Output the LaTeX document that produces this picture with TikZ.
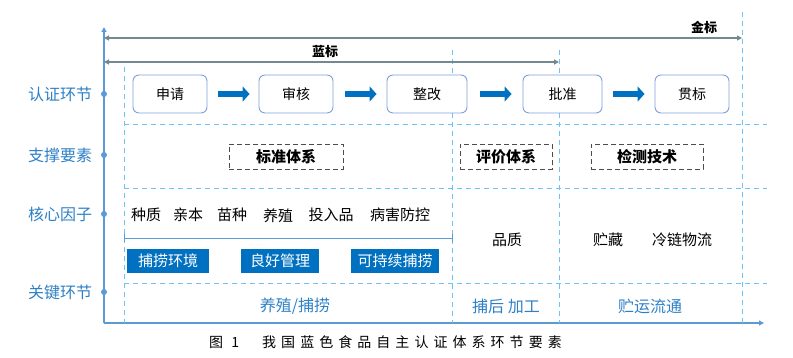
\documentclass[tikz,border=0pt]{standalone}
\usepackage{fontspec}
\setmainfont{Noto Sans CJK SC}
\newfontfamily\capfont[LetterSpace=36]{Noto Sans CJK SC}
\usetikzlibrary{arrows.meta}
\definecolor{axisblue}{HTML}{5B9BD5}
\definecolor{lblue}{HTML}{2E80C6}
\definecolor{dashblue}{HTML}{6EC2F7}
\definecolor{boxborder}{HTML}{7F9FDA}
\definecolor{solidblue}{HTML}{0070C0}
\definecolor{graydark}{HTML}{75878F}
\tikzset{
  rowlabel/.style={text=lblue,font=\fontsize{16}{16}\selectfont,anchor=center},
  dashline/.style={draw=dashblue,line width=0.9pt,dash pattern=on 5pt off 4pt},
  stepbox/.style={draw=boxborder,line width=0.9pt,rounded corners=6pt,fill=white,minimum width=74pt,minimum height=38pt,font=\fontsize{14}{14}\selectfont},
  blockarrow/.style={draw=solidblue,line width=6pt,-{Triangle[length=7pt,width=15pt]}},
  dashbox/.style={draw=black!70,line width=0.8pt,dash pattern=on 5pt off 3pt,minimum height=25pt,font=\bfseries\fontsize{15}{15}\selectfont},
  factor/.style={font=\fontsize{15}{15}\selectfont},
  bluebox/.style={fill=solidblue,text=white,minimum height=24pt,inner sep=0pt,font=\fontsize{15}{15}\selectfont},
  bottomtext/.style={text=lblue,font=\fontsize{16}{16}\selectfont},
  markarrow/.style={draw=graydark,line width=1.4pt,{Triangle[length=5pt,width=5pt]}-{Triangle[length=5pt,width=5pt]}},
  dot/.style={circle,fill=axisblue,inner sep=0pt,minimum size=6pt}
}
\begin{document}
\begin{tikzpicture}[x=1pt,y=-1pt]
\useasboundingbox (0,0) rectangle (793,358);
% axes
\coordinate (O) at (104,323);
\coordinate (Ytop) at (104,27);
\coordinate (Xend) at (764,323);
\draw[axisblue,line width=1.2pt,-{Triangle[length=5pt,width=5pt]}] (O) -- (Ytop);
\draw[axisblue,line width=1.2pt,-{Triangle[length=5pt,width=5pt]}] (O) -- (Xend);
% dashed grid
\draw[dashline] (124,67) -- (124,323);
\draw[dashline] (452,50) -- (452,323);
\draw[dashline] (559,50) -- (559,323);
\draw[dashline] (742,12) -- (742,323);
\draw[dashline] (124,124) -- (767,124);
\draw[dashline] (124,188) -- (767,188);
\draw[dashline] (124,283) -- (767,283);
\draw[axisblue,line width=0.9pt] (124,238) -- (452,238);
\draw[axisblue,line width=0.9pt] (124,234) -- (124,242);
\draw[axisblue,line width=0.9pt] (452,234) -- (452,242);
% gold / blue marks
\coordinate (g1) at (104,38);
\coordinate (g2) at (742,38);
\coordinate (b1) at (104,62);
\coordinate (b2) at (559,62);
\draw[markarrow] (g1) -- (g2);
\draw[markarrow] (b1) -- (b2);
\node[font=\bfseries\fontsize{13}{13}\selectfont] (gold) at (704,27) {金标};
\node[font=\bfseries\fontsize{13}{13}\selectfont] (blue) at (325,52) {蓝标};
% row labels and dots
\node[rowlabel] (r1) at (60,94) {认证环节};
\node[rowlabel] (r2) at (60,155) {支撑要素};
\node[rowlabel] (r3) at (60,214) {核心因子};
\node[rowlabel] (r4) at (60,292) {关键环节};
\node[dot] (d1) at (104,94) {};
\node[dot] (d2) at (104,155) {};
\node[dot] (d3) at (104,214) {};
\node[dot] (d4) at (104,292) {};
% step boxes
\node[stepbox] (s1) at (170,94) {申请};
\node[stepbox] (s2) at (296,94) {审核};
\node[stepbox,minimum width=80pt] (s3) at (427,94) {整改};
\node[stepbox,minimum width=79pt] (s4) at (562.5,94) {批准};
\node[stepbox] (s5) at (692,94) {贯标};
\draw[blockarrow,shorten <=11pt,shorten >=9pt] (s1) -- (s2);
\draw[blockarrow,shorten <=12pt,shorten >=10pt] (s2) -- (s3);
\draw[blockarrow,shorten <=13pt,shorten >=11pt] (s3) -- (s4);
\draw[blockarrow,shorten <=11pt,shorten >=10pt] (s4) -- (s5);
% supporting elements
\node[dashbox,minimum width=114pt] (e1) at (286,157) {标准体系};
\node[dashbox,minimum width=92pt] (e2) at (506,157) {评价体系};
\node[dashbox,minimum width=112pt] (e3) at (647,157) {检测技术};
% core factors
\node[factor] (f1) at (146,215) {种质};
\node[factor] (f2) at (188,215) {亲本};
\node[factor] (f3) at (232,215) {苗种};
\node[factor] (f4) at (278,216) {养殖};
\node[factor] (f5) at (331,215) {投入品};
\node[factor] (f6) at (400,215) {病害防控};
\node[factor] (f7) at (507,240) {品质};
\node[factor] (f8) at (608,240) {贮藏};
\node[factor] (f9) at (682,240) {冷链物流};
\node[bluebox,minimum width=82pt] (c1) at (168,261) {捕捞环境};
\node[bluebox,minimum width=78pt] (c2) at (280,261) {良好管理};
\node[bluebox,minimum width=88pt] (c3) at (395,261) {可持续捕捞};
% key links
\node[bottomtext] (k1) at (295,306) {养殖/捕捞};
\node[bottomtext] (k2) at (506,306) {捕后 加工};
\node[bottomtext] (k3) at (650,306) {贮运流通};
% caption
\node[anchor=west,inner sep=0pt,font=\fontsize{14}{14}\selectfont] (cap1) at (209,342) {\capfont 图 1};
\node[anchor=west,inner sep=0pt,font=\fontsize{14}{14}\selectfont] (cap2) at (262,342) {\capfont 我国蓝色食品自主认证体系环节要素};
\end{tikzpicture}
\end{document}
